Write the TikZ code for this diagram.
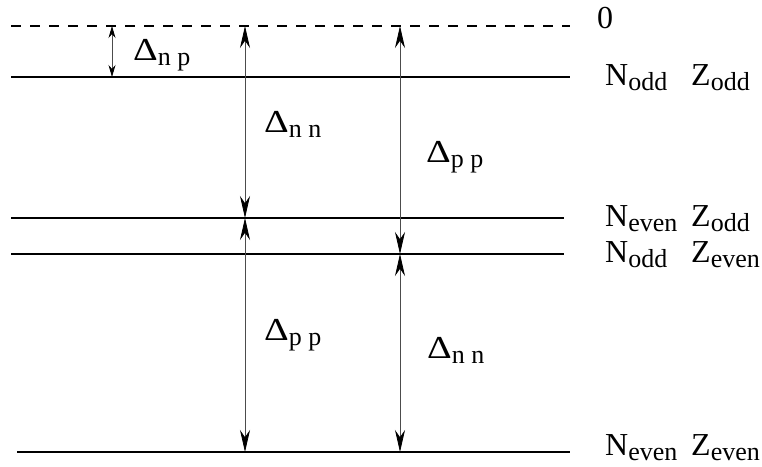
\documentclass[tikz,border=0pt]{standalone}
\usepackage{fontspec}
\usepackage{graphicx}
\setmainfont{Liberation Serif}
\usetikzlibrary{arrows.meta,positioning}
\newcommand{\lowsub}[1]{\raisebox{-5pt}{\fontsize{26}{28}\selectfont #1}}
\newcommand{\gapD}{\scalebox{1.2}[1]{Δ}}

\begin{document}
\begin{tikzpicture}[x=1pt,y=-1pt,font=\fontsize{32}{36}\selectfont,
  level/.style={line width=1.8pt},
  gap/.style={black!70,line width=0.8pt,{Stealth[length=22pt,width=10pt,black]}-{Stealth[length=22pt,width=10pt,black]}},
  smallgap/.style={black!70,line width=0.8pt,{Stealth[length=12pt,width=7pt,black]}-{Stealth[length=12pt,width=7pt,black]}},
  lab/.style={anchor=base west,inner sep=0pt}]
\useasboundingbox (0,0) rectangle (762,466);
% energy levels
\draw[level,dash pattern=on 10pt off 9pt] (11,26) coordinate (zero) -- (570,26);
\draw[level] (11,77) coordinate (oddodd) -- (570,77);
\draw[level] (11,218) coordinate (evenodd) -- (564,218);
\draw[level] (11,254) coordinate (oddeven) -- (564,254);
\draw[level] (17,452) coordinate (eveneven) -- (570,452);
% columns for the gaps
\coordinate (c1) at (112,0);
\coordinate (c2) at (245,0);
\coordinate (c3) at (400,0);
\draw[smallgap] (c1 |- zero) -- (c1 |- oddodd);
\draw[gap] (c2 |- zero) -- (c2 |- evenodd);
\draw[gap] (c3 |- zero) -- (c3 |- oddeven);
\draw[gap] (c2 |- evenodd) -- (c2 |- eveneven);
\draw[gap] (c3 |- oddeven) -- (c3 |- eveneven);
\node[lab] (dnp) at (133,60) {\gapD\lowsub{n p}};
\node[lab] (dnn1) at (264,132) {\gapD\lowsub{n n}};
\node[lab] (dpp1) at (426,162) {\gapD\lowsub{p p}};
\node[lab] (dpp2) at (264,340) {\gapD\lowsub{p p}};
\node[lab] (dnn2) at (427,358) {\gapD\lowsub{n n}};
% level names
\node[lab] (l0) at (597,28) {0};
\node[lab] (n1) at (605,85) {N\lowsub{odd}};
\node[lab] (z1) at (691,85) {Z\lowsub{odd}};
\node[lab] (n2) at (605,226) {N\lowsub{even}};
\node[lab] (z2) at (691,226) {Z\lowsub{odd}};
\node[lab] (n3) at (605,262) {N\lowsub{odd}};
\node[lab] (z3) at (691,262) {Z\lowsub{even}};
\node[lab] (n4) at (605,455) {N\lowsub{even}};
\node[lab] (z4) at (691,455) {Z\lowsub{even}};
\end{tikzpicture}
\end{document}
